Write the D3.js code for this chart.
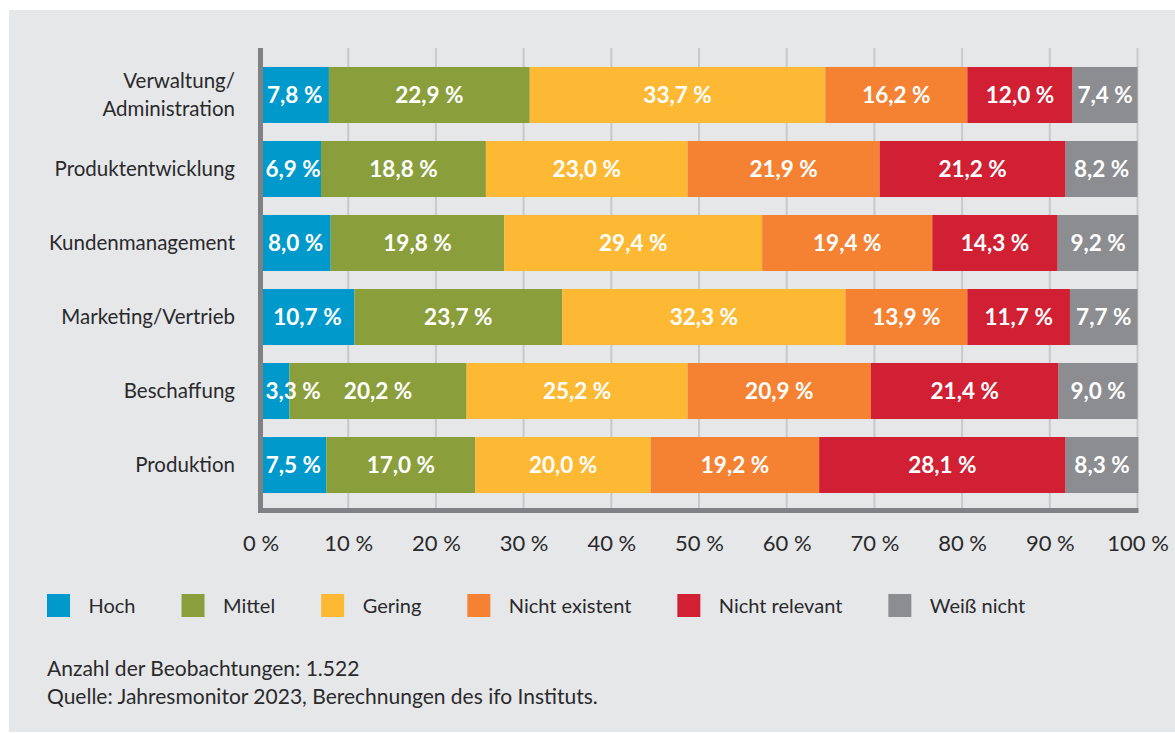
<!DOCTYPE html>
<html>
<head>
<meta charset="utf-8">
<script src="https://cdn.jsdelivr.net/npm/d3@7"></script>
<style>
  html, body { margin: 0; padding: 0; background: #ffffff; }
  svg { display: block; }
  text { font-family: Lato, "Open Sans", sans-serif; }
</style>
</head>
<body>
<svg id="chart" width="1175" height="733"></svg>
<script>
// ---------- data ----------
const categories = [
  ["Verwaltung/", "Administration"],
  ["Produktentwicklung"],
  ["Kundenmanagement"],
  ["Marketing/Vertrieb"],
  ["Beschaffung"],
  ["Produktion"]
];
const seriesNames = ["Hoch", "Mittel", "Gering", "Nicht existent", "Nicht relevant", "Weiß nicht"];
const hoch          = [7.8, 6.9, 8.0, 10.7, 3.3, 7.5];
const mittel        = [22.9, 18.8, 19.8, 23.7, 20.2, 17.0];
const gering        = [33.7, 23.0, 29.4, 32.3, 25.2, 20.0];
const nichtExistent = [16.2, 21.9, 19.4, 13.9, 20.9, 19.2];
const nichtRelevant = [12.0, 21.2, 14.3, 11.7, 21.4, 28.1];
const weissNicht    = [7.4, 8.2, 9.2, 7.7, 9.0, 8.3];
const xTicks = [0, 10, 20, 30, 40, 50, 60, 70, 80, 90, 100];
const footnotes = [
  "Anzahl der Beobachtungen: 1.522",
  "Quelle: Jahresmonitor 2023, Berechnungen des ifo Instituts."
];

// ---------- styles ----------
const colors = ["#0099cc", "#8a9f3c", "#fdb933", "#f58233", "#d12033", "#8c8d91"];
const textColor = "#2a2a2c";
const bg = "#e6e7e9";

const seriesValues = [hoch, mittel, gering, nichtExistent, nichtRelevant, weissNicht];
const table = categories.map((c, i) => {
  const row = { key: i, label: c };
  seriesNames.forEach((s, j) => row[s] = seriesValues[j][i]);
  return row;
});

const svg = d3.select("#chart");
svg.append("rect").attr("x", 9).attr("y", 10).attr("width", 1166).attr("height", 722).attr("fill", bg);

const x = d3.scaleLinear().domain([0, 100]).range([260.5, 1137.5]);
const y = d3.scaleBand().domain(table.map(d => d.key)).range([49, 511])
  .paddingInner(0.243).paddingOuter(0.243);

const plotTop = 48, plotBottom = 510.5;

// gridlines
svg.append("g").selectAll("line").data(xTicks.filter(t => t > 0)).join("line")
  .attr("x1", d => x(d)).attr("x2", d => x(d))
  .attr("y1", plotTop).attr("y2", plotBottom)
  .attr("stroke", "#c8c9cc").attr("stroke-width", 2);

// stacked bars
const stack = d3.stack().keys(seriesNames);
const stacked = stack(table);
const fmt = v => v.toFixed(1).replace(".", ",") + " %";

const layers = svg.append("g").selectAll("g").data(stacked).join("g")
  .attr("fill", (d, i) => colors[i]);
layers.selectAll("rect").data(d => d).join("rect")
  .attr("x", d => x(d[0]))
  .attr("y", d => y(d.data.key))
  .attr("width", d => x(d[1]) - x(d[0]))
  .attr("height", y.bandwidth());

// axis lines
svg.append("line").attr("x1", 260.5).attr("x2", 260.5).attr("y1", plotTop).attr("y2", 513)
  .attr("stroke", "#808184").attr("stroke-width", 5);
svg.append("line").attr("x1", 258).attr("x2", 1138.5).attr("y1", plotBottom).attr("y2", plotBottom)
  .attr("stroke", "#808184").attr("stroke-width", 5);

// value labels
const labelG = svg.append("g");
stacked.forEach((layer, li) => {
  layer.forEach(d => {
    const t = labelG.append("text")
      .attr("y", y(d.data.key) + y.bandwidth() / 2 + 8)
      .attr("fill", "#ffffff")
      .attr("font-weight", "bold")
      .attr("font-size", 22.5)
      .attr("text-anchor", "middle")
      .text(fmt(d.data[layer.key]));
    const w = t.node().getComputedTextLength();
    let cx = (x(d[0]) + x(d[1])) / 2;
    const minX = x(d[0]) + 5 + w / 2;
    if (li === 0 && cx < minX) cx = minX;
    t.attr("x", cx);
  });
});

// category labels
const catG = svg.append("g");
table.forEach(d => {
  const cy = y(d.key) + y.bandwidth() / 2;
  const n = d.label.length;
  d.label.forEach((line, k) => {
    catG.append("text")
      .attr("x", 235)
      .attr("y", cy + 7 + (k - (n - 1) / 2) * 28)
      .attr("text-anchor", "end")
      .attr("font-size", 20.5)
      .attr("fill", textColor)
      .text(line);
  });
});

// x axis tick labels
const xAxis = d3.axisBottom(x).tickValues(xTicks).tickSize(0).tickFormat(d => d + " %");
const axG = svg.append("g").attr("transform", "translate(0," + plotBottom + ")").call(xAxis);
axG.select(".domain").remove();
axG.selectAll("text")
  .attr("y", 40.5).attr("dy", null)
  .attr("font-size", 22)
  .attr("font-family", "Lato, 'Open Sans', sans-serif")
  .attr("fill", textColor);

// legend
const legG = svg.append("g");
let lx = 47;
seriesNames.forEach((s, i) => {
  legG.append("rect").attr("x", lx).attr("y", 594).attr("width", 23).attr("height", 23).attr("fill", colors[i]);
  const t = legG.append("text").attr("x", lx + 41.5).attr("y", 613)
    .attr("font-size", 20).attr("fill", textColor).text(s);
  lx = lx + 41.5 + t.node().getComputedTextLength() + 46;
});

// footnotes
svg.append("g").selectAll("text").data(footnotes).join("text")
  .attr("x", 47).attr("y", (d, i) => 676 + i * 28)
  .attr("font-size", 21).attr("fill", textColor)
  .text(d => d);
</script>
</body>
</html>
